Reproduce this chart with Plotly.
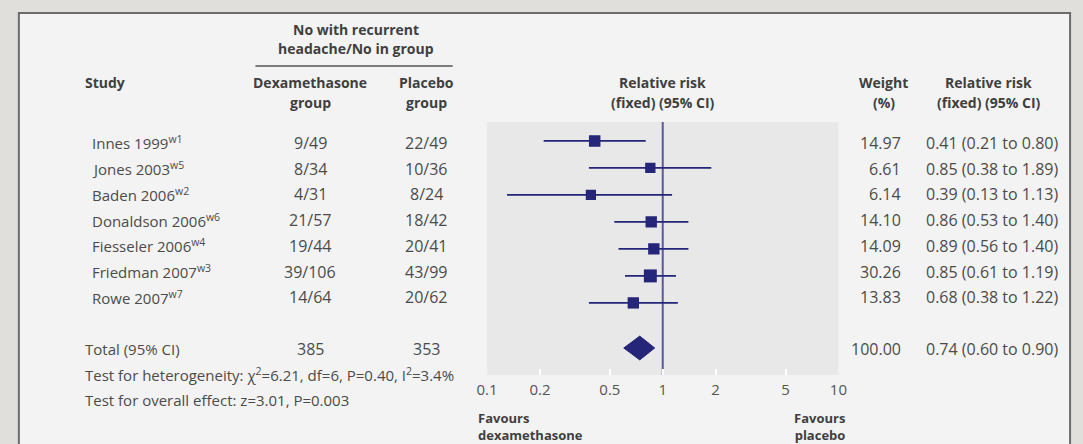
import plotly.graph_objects as go

# ---------------- data ----------------
studies = ["Innes 1999", "Jones 2003", "Baden 2006", "Donaldson 2006",
           "Fiesseler 2006", "Friedman 2007", "Rowe 2007"]
refs = ["w1", "w5", "w2", "w6", "w4", "w3", "w7"]
dex_events = [9, 8, 4, 21, 19, 39, 14]
dex_total = [49, 34, 31, 57, 44, 106, 64]
pla_events = [22, 10, 8, 18, 20, 43, 20]
pla_total = [49, 36, 24, 42, 41, 99, 62]
weights = [14.97, 6.61, 6.14, 14.10, 14.09, 30.26, 13.83]
rr = [0.41, 0.85, 0.39, 0.86, 0.89, 0.85, 0.68]
rr_lo = [0.21, 0.38, 0.13, 0.53, 0.56, 0.61, 0.38]
rr_hi = [0.80, 1.89, 1.13, 1.40, 1.40, 1.19, 1.22]
total_dex = 385
total_pla = 353
total_weight = 100.00
total_rr, total_lo, total_hi = 0.74, 0.60, 0.90
tick_vals = [0.1, 0.2, 0.5, 1, 2, 5, 10]
tick_text = ["0.1", "0.2", "0.5", "1", "2", "5", "10"]
heterogeneity = "Test for heterogeneity: χ<sup>2</sup>=6.21, df=6, P=0.40, I<sup>2</sup>=3.4%"
overall = "Test for overall effect: z=3.01, P=0.003"

# ---------------- layout helpers ----------------
W, H = 1083, 444
FONT = "Open Sans"
TXT = "#4b4b4b"
HDR = "#3f3f3f"
NAVY = "#25257a"
BODY = 16
SMALL = 15
BOLD = 14


def px(x):
    return x / W


def py(y):
    return 1 - y / H


annotations = []


def add_text(x, y, text, anchor="left", bold=False, size=None, color=None):
    annotations.append(dict(
        x=px(x), y=py(y), xref="paper", yref="paper", text=text,
        showarrow=False, xanchor=anchor, yanchor="middle", align=anchor,
        font=dict(family=FONT, size=size or (BOLD if bold else BODY),
                  color=color or (HDR if bold else TXT),
                  weight="bold" if bold else "normal")))


fig = go.Figure()

# y positions of rows in the forest plot (data units)
row_y = list(range(len(studies)))
total_y = 7.67

# CI lines
ci_x, ci_y = [], []
for lo, hi, yy in zip(rr_lo, rr_hi, row_y):
    ci_x += [lo, hi, None]
    ci_y += [yy, yy, None]
fig.add_trace(go.Scatter(x=ci_x, y=ci_y, mode="lines",
                         line=dict(color=NAVY, width=1.8), hoverinfo="skip"))

# squares sized by weight
sizes = [8 + 0.9 * w ** 0.5 for w in weights]
fig.add_trace(go.Scatter(x=rr, y=row_y, mode="markers",
                         marker=dict(symbol="square", size=sizes, color=NAVY,
                                     opacity=1, line=dict(width=0))))

# diamond for total
dh = 0.44
fig.add_trace(go.Scatter(
    x=[total_lo, total_rr, total_hi, total_rr, total_lo],
    y=[total_y, total_y - dh, total_y, total_y + dh, total_y],
    mode="lines", fill="toself", fillcolor=NAVY,
    line=dict(color=NAVY, width=1)))

# ---------------- shapes ----------------
shapes = [
    # frame
    dict(type="rect", xref="paper", yref="paper", x0=px(8), x1=px(1079),
         y0=-0.2, y1=py(13), fillcolor="#f3f3f3",
         line=dict(color="#6b6b6b", width=2), layer="below"),
    # plot background
    dict(type="rect", xref="x domain", yref="y domain", x0=0, x1=1, y0=0, y1=1,
         fillcolor="#e8e8e8", line=dict(width=0), layer="below"),
    # line of no effect
    dict(type="line", xref="x", yref="y domain", x0=1, x1=1, y0=0, y1=1,
         line=dict(color="#5a5a98", width=2), layer="below"),
    # header underline
    dict(type="line", xref="paper", yref="paper", x0=px(249), x1=px(450),
         y0=py(66), y1=py(66), line=dict(color="#555555", width=1.5)),
]

# ---------------- text ----------------
add_text(352, 29, "No with recurrent", anchor="center", bold=True)
add_text(352, 48, "headache/No in group", anchor="center", bold=True)
add_text(73, 83, "Study", bold=True)
add_text(305, 83, "Dexamethasone", anchor="center", bold=True)
add_text(305, 102, "group", anchor="center", bold=True)
add_text(423, 83, "Placebo", anchor="center", bold=True)
add_text(423, 102, "group", anchor="center", bold=True)
add_text(664, 83, "Relative risk", anchor="center", bold=True)
add_text(664, 102, "(fixed) (95% CI)", anchor="center", bold=True)
add_text(889, 83, "Weight", anchor="center", bold=True)
add_text(889, 102, "(%)", anchor="center", bold=True)
add_text(996, 83, "Relative risk", anchor="center", bold=True)
add_text(996, 102, "(fixed) (95% CI)", anchor="center", bold=True)

row_px = [143, 168.7, 194.4, 220.1, 245.8, 271.5, 297.2]
for i, name in enumerate(studies):
    yy = row_px[i]
    add_text(80, yy, f"{name}<sup>{refs[i]}</sup>", size=SMALL)
    add_text(305, yy, f"{dex_events[i]}/{dex_total[i]}", anchor="center")
    add_text(423, yy, f"{pla_events[i]}/{pla_total[i]}", anchor="center")
    add_text(909, yy, f"{weights[i]:.2f}", anchor="right")
    add_text(930, yy, f"{rr[i]:.2f} ({rr_lo[i]:.2f} to {rr_hi[i]:.2f})")

add_text(73, 349, "Total (95% CI)", size=SMALL)
add_text(305, 349, f"{total_dex}", anchor="center")
add_text(423, 349, f"{total_pla}", anchor="center")
add_text(909, 349, f"{total_weight:.2f}", anchor="right")
add_text(930, 349, f"{total_rr:.2f} ({total_lo:.2f} to {total_hi:.2f})")
add_text(73, 374, heterogeneity, size=SMALL)
add_text(73, 400, overall, size=SMALL)

add_text(474, 426, "Favours<br>dexamethasone", bold=True, size=13)
add_text(852, 426, "Favours<br>placebo", anchor="right", bold=True, size=13)

fig.update_layout(
    width=W, height=H,
    margin=dict(l=0, r=0, t=0, b=0, pad=0),
    paper_bgcolor="#e0dfdc",
    plot_bgcolor="rgba(0,0,0,0)",
    showlegend=False,
    shapes=shapes,
    annotations=annotations,
    xaxis=dict(type="log", range=[-1, 1], domain=[px(485), px(843)],
               tickvals=tick_vals, ticktext=tick_text, ticks="inside",
               ticklen=6, tickwidth=2, tickcolor="#ffffff",
               ticklabelstandoff=4,
               showgrid=False, zeroline=False, showline=False,
               tickfont=dict(family=FONT, size=15, color="#555555")),
    yaxis=dict(range=[8.67, -0.7], domain=[py(375), py(122)],
               showticklabels=False, showgrid=False, zeroline=False,
               showline=False, ticks=""),
)

fig.write_html("out.html",
               config={"displayModeBar": False},
               post_script="document.body.style.margin='0';"
                           "document.body.style.overflow='hidden';"
                           "document.body.style.background='#e0dfdc';")
